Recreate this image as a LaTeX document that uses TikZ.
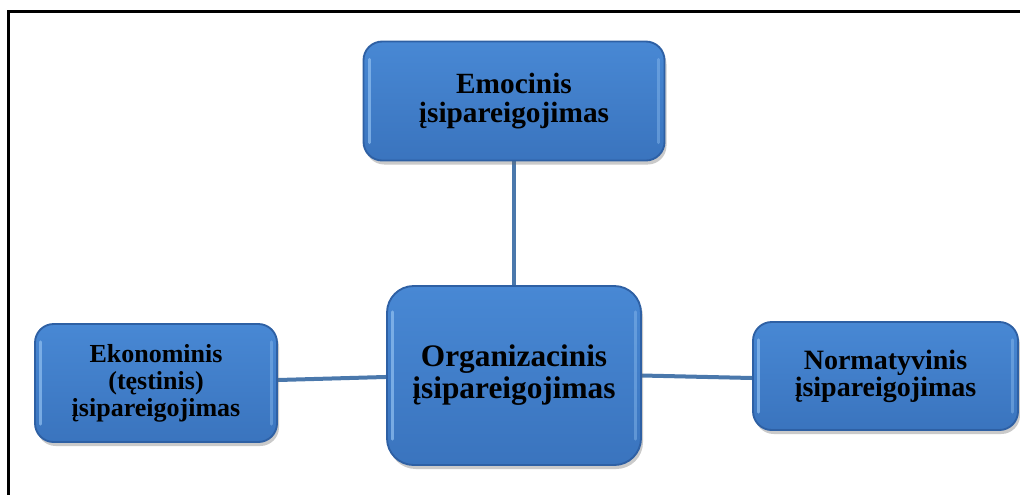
\documentclass[tikz,border=0pt]{standalone}
\usepackage{fontspec}
\setmainfont{Liberation Serif}
\usetikzlibrary{shadows,backgrounds}
\definecolor{boxtop}{HTML}{4888D4}
\definecolor{boxbot}{HTML}{3A74BE}
\definecolor{boxedge}{HTML}{2E60A4}
\definecolor{hilite}{HTML}{8CBCEE}
\definecolor{linkc}{HTML}{4A78AC}
\tikzset{
  box/.style={rectangle, rounded corners=#1, top color=boxtop, bottom color=boxbot,
    draw=boxedge, line width=1.4pt, align=center, inner sep=0pt,
    drop shadow={shadow xshift=1.5pt, shadow yshift=-3pt, opacity=0.35, fill=black!60}},
  box/.default=14pt,
  hl/.style={draw=hilite, line width=2pt, line cap=round, opacity=0.75},
  link/.style={draw=linkc, line width=3pt},
  frameline/.style={draw=black, line width=1.6pt}
}
\begin{document}
\begin{tikzpicture}[x=0.75pt, y=-0.75pt]
\useasboundingbox (0,0) rectangle (1020,494);
\draw[frameline] (8.5,1000) -- (8.5,11.5) -- (1030,11.5);
\node[box, minimum width=225.75pt, minimum height=89.25pt,
  font=\bfseries\fontsize{22}{22}\selectfont] (emo) at (514,101)
  {Emocinis\\ įsipareigojimas};
\node[box=20pt, minimum width=190.5pt, minimum height=134.25pt,
  font=\bfseries\fontsize{23.5}{24}\selectfont] (org) at (514,375.5)
  {Organizacinis\\ įsipareigojimas};
\node[box, minimum width=181.5pt, minimum height=88.5pt,
  font=\bfseries\fontsize{19.5}{20.25}\selectfont] (eko) at (156,383)
  {Ekonominis\\ (tęstinis)\\ įsipareigojimas};
\node[box, minimum width=198.75pt, minimum height=81pt,
  font=\bfseries\fontsize{21}{20.25}\selectfont] (norm) at (885.5,376)
  {Normatyvinis\\ įsipareigojimas};
\foreach \n/\r in {emo/14pt, org/20pt, eko/14pt, norm/14pt} {
  \draw[hl] ([xshift=5pt,yshift=-\r]\n.north west) -- ([xshift=5pt,yshift=\r]\n.south west);
  \draw[hl, opacity=0.45] ([xshift=-5pt,yshift=-\r]\n.north east) -- ([xshift=-5pt,yshift=\r]\n.south east);
}
\begin{scope}[on background layer]
\draw[link] (emo.south) -- (org.north);
\draw[link] ([yshift=2.25pt]eko.east) -- ([yshift=-1.1pt]org.west);
\draw[link] (org.east) -- ([yshift=-1.5pt]norm.west);
\end{scope}
\end{tikzpicture}
\end{document}
